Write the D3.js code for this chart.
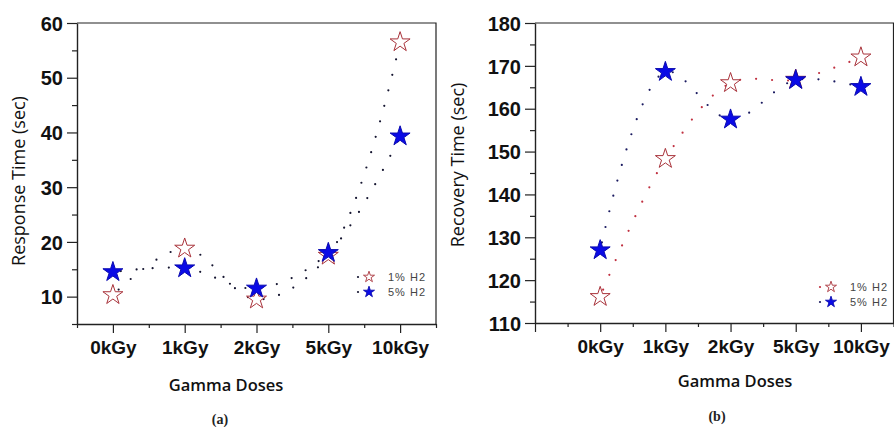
<!DOCTYPE html>
<html>
<head>
<meta charset="utf-8">
<script src="https://cdn.jsdelivr.net/npm/d3@7"></script>
<style>
  html, body { margin: 0; padding: 0; background: #fff; }
  svg { display: block; }
  .tick-label { font-family: "Liberation Sans", Arial, sans-serif; font-weight: bold; fill: #111; }
  .axis-title { font-family: "Open Sans", "Noto Sans", sans-serif; fill: #111; }
  .legend-text { font-family: "Liberation Sans", Arial, sans-serif; font-size: 11px; fill: #444; letter-spacing: 1px; }
  .panel-tag { font-family: "Liberation Serif", "Times New Roman", serif; font-weight: bold; font-size: 14px; fill: #222; }
</style>
</head>
<body>
<svg id="chart" width="894" height="427"></svg>
<script>
// Gamma dose categories shared by both panels
const doses = ["0kGy", "1kGy", "2kGy", "5kGy", "10kGy"];

// Panel (a): response time (sec)
const response1H2 = [10.3, 18.8, 9.5, 17.5, 56.5];
const response5H2 = [14.5, 15.2, 11.5, 18.0, 39.3];
const responseTicks = [10, 20, 30, 40, 50, 60];

// Panel (b): recovery time (sec)
const recovery1H2 = [116.1, 148.3, 166.0, 166.8, 172.0];
const recovery5H2 = [127.0, 168.6, 157.5, 166.7, 165.1];
const recoveryTicks = [110, 120, 130, 140, 150, 160, 170, 180];

const seriesNames = ["1% H2", "5% H2"];

const svg = d3.select("#chart");

const starPath = r => d3.symbol().type(d3.symbolStar).size(r * r / 0.8908130915292852)();

function drawPanel(cfg) {
  const g = svg.append("g");
  const x = d3.scaleLinear().domain(cfg.xDomain).range([cfg.left, cfg.right]);
  const y = d3.scaleLinear().domain(cfg.yDomain).range([cfg.bottom, cfg.top]);

  // frame (top and right edges)
  g.append("path")
    .attr("d", `M${cfg.left},${cfg.top}H${cfg.right}V${cfg.bottom}`)
    .attr("fill", "none").attr("stroke", "#222").attr("stroke-width", 1.2);

  // y axis: major ticks every 10 with labels, minor ticks at the fives
  const yVals = d3.range(cfg.yDomain[0], cfg.yDomain[1] + 0.001, 5);
  const yAxis = g.append("g").attr("transform", `translate(${cfg.left},0)`)
    .call(d3.axisLeft(y).tickValues(yVals).tickSizeOuter(0)
      .tickFormat(v => cfg.yTicks.includes(v) ? v : ""));
  yAxis.select(".domain").attr("stroke", "#222").attr("stroke-width", 1.4);
  yAxis.selectAll(".tick line")
    .attr("x2", d => cfg.yTicks.includes(d) ? -10 : -5)
    .attr("stroke", "#222").attr("stroke-width", 1.2);
  yAxis.selectAll(".tick text")
    .attr("class", "tick-label").attr("x", -14)
    .style("font-size", cfg.yFont + "px").attr("dy", "0.36em");

  // x axis: categories at integers, minor ticks half way between
  const xVals = d3.range(cfg.xDomain[0], cfg.xDomain[1] + 0.001, 0.5);
  const xAxis = g.append("g").attr("transform", `translate(0,${cfg.bottom})`)
    .call(d3.axisBottom(x).tickValues(xVals).tickSizeOuter(0)
      .tickFormat(v => (Number.isInteger(v) && doses[v] !== undefined) ? doses[v] : ""));
  xAxis.select(".domain").attr("stroke", "#222").attr("stroke-width", 1.4);
  xAxis.selectAll(".tick line")
    .attr("y2", d => Number.isInteger(d) ? 9 : 4)
    .attr("stroke", "#222").attr("stroke-width", 1.2);
  xAxis.selectAll(".tick text")
    .attr("class", "tick-label").attr("y", 17)
    .style("font-size", "19px").attr("dy", "0.71em");

  // axis titles
  g.append("text").attr("class", "axis-title")
    .attr("transform", `translate(${cfg.yTitleX},${cfg.yTitleY}) rotate(-90)`)
    .attr("text-anchor", "middle").style("font-size", "18px")
    .text(cfg.yTitle);
  g.append("text").attr("class", "axis-title")
    .attr("x", cfg.xTitleX).attr("y", cfg.xTitleY)
    .attr("text-anchor", "middle").style("font-size", "16.5px").style("font-weight", 600)
    .text("Gamma Doses");
  g.append("text").attr("class", "panel-tag")
    .attr("x", cfg.tagX).attr("y", cfg.tagY).attr("text-anchor", "middle")
    .text(cfg.tag);

  // dotted spline connectors
  const line = d3.line().x((d, i) => x(i)).y(d => y(d)).curve(d3.curveCatmullRom.alpha(0.5));
  cfg.series.forEach(s => {
    g.append("path").attr("d", line(s.values))
      .attr("fill", "none").attr("stroke", s.dotColor)
      .attr("stroke-width", 2.2).attr("stroke-linecap", "round")
      .attr("stroke-dasharray", "0 16").attr("stroke-dashoffset", -8);
  });

  // star markers
  cfg.series.forEach(s => {
    g.selectAll(null).data(s.values).join("path")
      .attr("d", starPath(10.5))
      .attr("transform", (d, i) => `translate(${x(i)},${y(d)})`)
      .attr("fill", s.fill).attr("stroke", s.stroke).attr("stroke-width", 1);
  });

  // legend
  cfg.series.forEach((s, k) => {
    const ly = cfg.legendY + k * 15;
    g.append("circle").attr("cx", cfg.legendX).attr("cy", ly).attr("r", 1.1).attr("fill", s.dotColor);
    g.append("path").attr("d", starPath(5.8))
      .attr("transform", `translate(${cfg.legendX + 11},${ly})`)
      .attr("fill", s.fill).attr("stroke", s.stroke).attr("stroke-width", 0.9);
    g.append("text").attr("class", "legend-text")
      .attr("x", cfg.legendX + 30).attr("y", ly).attr("dy", "0.36em")
      .text(s.name);
  });
}

drawPanel({
  left: 77, right: 436, top: 23, bottom: 324,
  xDomain: [-0.5, 4.5], yDomain: [5, 60], yTicks: responseTicks, yFont: 20,
  yTitle: "Response Time (sec)", yTitleX: 25, yTitleY: 181,
  xTitleX: 226, xTitleY: 391, tag: "(a)", tagX: 220, tagY: 424,
  legendX: 358, legendY: 277,
  series: [
    { name: seriesNames[0], values: response1H2, fill: "#fff", stroke: "#a8323a", dotColor: "#151530" },
    { name: seriesNames[1], values: response5H2, fill: "#0a0ae6", stroke: "#0a0ab0", dotColor: "#151530" }
  ]
});

drawPanel({
  left: 535, right: 893.5, top: 23, bottom: 323,
  xDomain: [-1, 4.5], yDomain: [110, 180], yTicks: recoveryTicks, yFont: 20,
  yTitle: "Recovery Time (sec)", yTitleX: 464, yTitleY: 165,
  xTitleX: 735, xTitleY: 387, tag: "(b)", tagX: 717, tagY: 421,
  legendX: 820, legendY: 287,
  series: [
    { name: seriesNames[0], values: recovery1H2, fill: "#fff", stroke: "#a8323a", dotColor: "#c03040" },
    { name: seriesNames[1], values: recovery5H2, fill: "#0a0ae6", stroke: "#0a0ab0", dotColor: "#1a1a60" }
  ]
});
</script>
</body>
</html>
